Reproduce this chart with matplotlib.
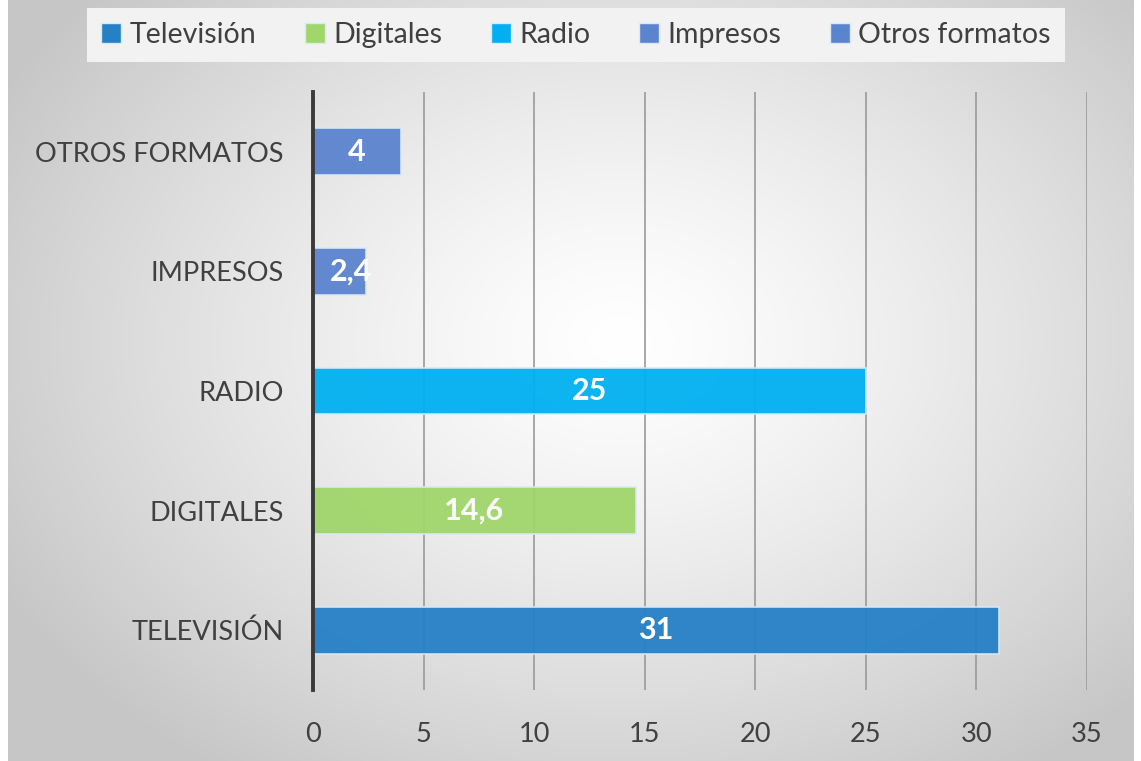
import numpy as np
import matplotlib.pyplot as plt
from matplotlib.patches import Patch

categorias = ['TELEVISIÓN', 'DIGITALES', 'RADIO', 'IMPRESOS', 'OTROS FORMATOS']
valores = [31, 14.6, 25, 2.4, 4]
leyenda = ['Televisión', 'Digitales', 'Radio', 'Impresos', 'Otros formatos']
colores = ['#2580c6', '#a0d66a', '#00b0f0', '#5b84cf', '#5b84cf']
xticks = [0, 5, 10, 15, 20, 25, 30, 35]

plt.rcParams['font.family'] = ['Lato', 'DejaVu Sans']

W, H = 1141, 761
fig = plt.figure(figsize=(W / 100, H / 100), dpi=100)
fig.patch.set_facecolor('white')

# fondo con degradado radial
bg = fig.add_axes([0, 0, 1, 1], zorder=0)
yy, xx = np.mgrid[0:H, 0:W]
r = np.sqrt(((xx - 620) / 700.0) ** 2 + ((yy - 340) / 520.0) ** 2)
r = np.clip(r, 0, 1)
g = 1.0 - 0.22 * r ** 1.3
img = np.dstack([g, g, g])
img[:, :8] = 1.0
img[:, 1134:] = 1.0
bg.imshow(img, extent=[0, W, H, 0], aspect='auto', interpolation='bilinear')
bg.set_xlim(0, W)
bg.set_ylim(H, 0)
bg.axis('off')

ax = fig.add_axes([313 / W, 71 / H, 774 / W, 598 / H], zorder=1)
ax.set_facecolor('none')

y = np.arange(len(categorias))
bars = ax.barh(y, valores, height=0.39, color=colores, edgecolor='#dbe8f5',
               linewidth=1.2, alpha=0.95, zorder=2)

for b, v in zip(bars, valores):
    xc = v / 2 if v >= 3 else v / 2 + 0.5
    t = ax.text(xc, b.get_y() + b.get_height() / 2,
                f'{v:g}'.replace('.', ','), ha='center', va='center',
                color='white', fontsize=22, fontweight='bold', zorder=4)
    t.set_clip_path(b)

ax.set_xlim(0, 35)
ax.set_ylim(-0.5, len(categorias) - 0.5)
ax.set_xticks(xticks)
ax.set_yticks(y)
ax.set_yticklabels(categorias)
ax.grid(axis='x', color='#9a9a9a', linewidth=1.2, zorder=1)
ax.set_axisbelow(True)
ax.tick_params(axis='both', length=0, labelsize=19.5, colors='#404040')
ax.tick_params(axis='x', pad=23)
ax.tick_params(axis='y', pad=21)
for s in ['top', 'right', 'bottom']:
    ax.spines[s].set_visible(False)
ax.spines['left'].set_color('#3a3a3a')
ax.spines['left'].set_linewidth(2.8)
ax.spines['left'].set_zorder(3)

handles = [Patch(facecolor=c, edgecolor='#dbe8f5') for c in colores]
leg = fig.legend(handles, leyenda, loc='center', bbox_to_anchor=(576 / W, 1 - 35 / H),
                 ncol=5, fontsize=20.5, frameon=True, fancybox=False,
                 handlelength=0.7, handleheight=0.7, handletextpad=0.3,
                 columnspacing=1.7, borderpad=0.5, borderaxespad=0,
                 labelcolor='#404040')
leg.get_frame().set_facecolor('#f2f2f2')
leg.get_frame().set_edgecolor('none')
leg.get_frame().set_alpha(1)

fig.savefig('out.png', dpi=100)
